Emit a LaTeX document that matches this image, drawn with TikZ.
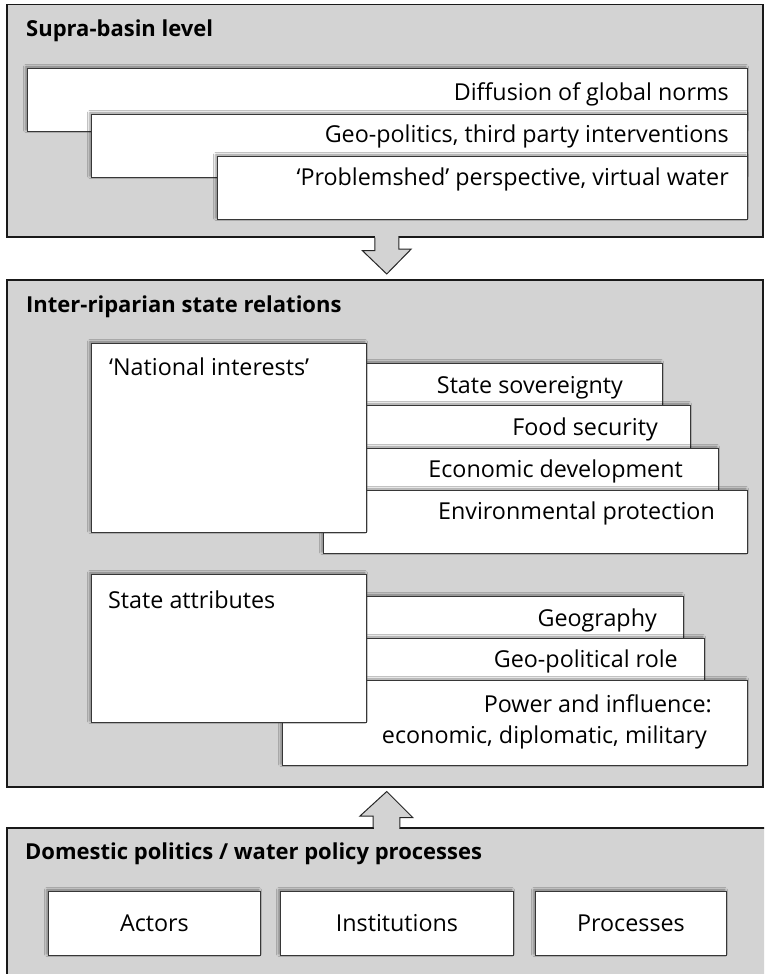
\documentclass[tikz,border=0pt]{standalone}
\usepackage{fontspec}
\setmainfont{Open Sans}
\usetikzlibrary{calc,shadows.blur}

\definecolor{panelgray}{RGB}{211,211,211}
\definecolor{edgegray}{RGB}{55,55,55}

\tikzset{
  panel/.style={draw=black!90, line width=1.5pt, fill=panelgray,
    anchor=north west, inner sep=0pt},
  card/.style={draw=edgegray, line width=0.9pt, fill=white,
    anchor=north west, inner sep=0pt,
    blur shadow={shadow xshift=-1.5pt, shadow yshift=1.5pt,
      shadow blur radius=2.5pt, shadow opacity=45}},
  title/.style={font=\fontsize{22}{26}\selectfont\bfseries,
    anchor=base west, inner sep=0pt},
  lbl/.style={font=\fontsize{23.3}{28}\selectfont, inner sep=0pt},
  rlbl/.style={lbl, anchor=base east},
  llbl/.style={lbl, anchor=base west},
  blockarrow/.style={fill=panelgray, draw=black!85, line width=1pt,
    line join=miter},
}

\begin{document}
\begin{tikzpicture}[x=1pt, y=-1pt]
\clip (0,0) rectangle (764,974);

% ---------- Supra-basin level ----------
\node[panel, minimum width=756pt, minimum height=232pt] (supra) at (6,4) {};
\node[title] (supratitle) at (26,37) {Supra-basin level};

\node[card, minimum width=720pt, minimum height=63pt] (diffbox) at (27,68) {};
\node[rlbl] (difftxt) at (729,100) {Diffusion of global norms};
\node[card, minimum width=656pt, minimum height=63pt] (geobox) at (91,114) {};
\node[rlbl] (geotxt) at (729,142) {Geo-politics, third party interventions};
\node[card, minimum width=530pt, minimum height=63pt] (probbox) at (217,156) {};
\node[rlbl] (probtxt) at (729,185) {‘Problemshed’ perspective, virtual water};

% ---------- Inter-riparian state relations ----------
\node[panel, minimum width=756pt, minimum height=507pt] (inter) at (6,279) {};
\node[title] (intertitle) at (26,312) {Inter-riparian state relations};

\node[card, minimum width=339pt, minimum height=42pt] (sovbox) at (323,363) {};
\node[rlbl] (sovtxt) at (623,393) {State sovereignty};
\node[card, minimum width=367pt, minimum height=43pt] (foodbox) at (323,405) {};
\node[rlbl] (foodtxt) at (658,435) {Food security};
\node[card, minimum width=395pt, minimum height=42pt] (econbox) at (323,448) {};
\node[rlbl] (econtxt) at (683,477) {Economic development};
\node[card, minimum width=424pt, minimum height=63pt] (envbox) at (323,490) {};
\node[rlbl] (envtxt) at (715,519) {Environmental protection};
\node[card, minimum width=275pt, minimum height=189pt] (natbox) at (91,343) {};
\node[llbl] (nattxt) at (109,375) {‘National interests’};

\node[card, minimum width=401pt, minimum height=42pt] (geogbox) at (282,596) {};
\node[rlbl] (geogtxt) at (657,626) {Geography};
\node[card, minimum width=422pt, minimum height=42pt] (rolebox) at (282,638) {};
\node[rlbl] (roletxt) at (678,667) {Geo-political role};
\node[card, minimum width=465pt, minimum height=85pt] (powbox) at (282,680) {};
\node[rlbl] (powtxta) at (712,712) {Power and influence:};
\node[rlbl] (powtxtb) at (707,743) {economic, diplomatic, military};
\node[card, minimum width=275pt, minimum height=148pt] (attrbox) at (91,574) {};
\node[llbl] (attrtxt) at (108,608) {State attributes};

% ---------- Domestic politics ----------
\node[panel, minimum width=762pt, minimum height=160pt] (dom) at (6,827) {};
\node[title] (domtitle) at (25,859) {Domestic politics / water policy processes};

\node[card, lbl, minimum width=212pt, minimum height=64pt] (actors) at (48,891) {Actors};
\node[card, lbl, minimum width=233pt, minimum height=64pt] (inst) at (280,891) {Institutions};
\node[card, lbl, minimum width=191pt, minimum height=64pt] (proc) at (535,891) {Processes};

% ---------- block arrows between the levels ----------
\coordinate (downbase) at ($(supra.south)+(2,0)$);
\fill[panelgray] ($(downbase)+(-11.5,-3)$) rectangle ($(downbase)+(11.5,6)$);
\filldraw[blockarrow] (downbase) ++(-12,0) -- ++(0,13) -- ++(-12.5,0)
  -- ($(inter.north)+(2,-5)$) -- ++(24.5,-25) -- ++(-12.5,0) -- ++(0,-13);

\coordinate (upbase) at ($(dom.north west)+(380,0)$);
\fill[panelgray] ($(upbase)+(-12.5,3)$) rectangle ($(upbase)+(12.5,-6)$);
\filldraw[blockarrow] (upbase) ++(-13,0) -- ++(0,-11) -- ++(-13,0)
  -- ($(inter.south)+(2,4)$) -- ++(26,26) -- ++(-13,0) -- ++(0,11);
\end{tikzpicture}
\end{document}
